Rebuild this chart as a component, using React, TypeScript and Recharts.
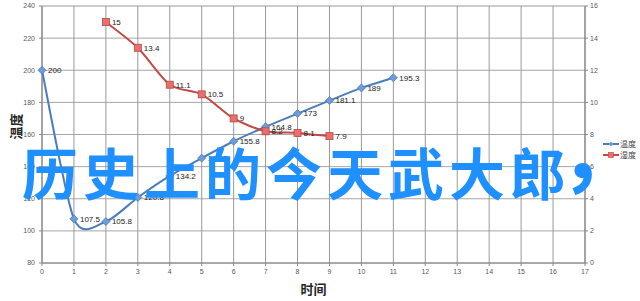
import React from 'react';
import { LineChart, Line, XAxis, YAxis, CartesianGrid, LabelList, Legend } from 'recharts';

const xTicks = [0, 1, 2, 3, 4, 5, 6, 7, 8, 9, 10, 11, 12, 13, 14, 15, 16, 17];
const leftTicks = [80, 100, 120, 140, 160, 180, 200, 220, 240];
const rightTicks = [0, 2, 4, 6, 8, 10, 12, 14, 16];

const tempX = [0, 1, 2, 3, 4, 5, 6, 7, 8, 9, 10, 11];
const tempValues = [200, 107.5, 105.8, 120.8, 134.2, 145.3, 155.8, 164.8, 173, 181.1, 189, 195.3];

const humidX = [2, 3, 4, 5, 6, 7, 8, 9];
const humidValues = [15, 13.4, 11.1, 10.5, 9, 8.2, 8.1, 7.9];

const seriesNames = ['温度', '湿度'];
const xLabel = '时间';
const yLabel = '温度';
const overlayMain = '历史上的今天武大郎';
const overlayComma = '，';

const minorX: number[] = [];
for (let i = 0; i <= 85; i++) minorX.push(+(i * 0.2).toFixed(1));
const minorY: number[] = [];
for (let v = 80; v <= 240; v += 10) minorY.push(v);

const tempData = tempX.map((x, i) => ({ x, temp: tempValues[i] }));
const humidData = humidX.map((x, i) => ({ x, humid: humidValues[i] }));

const BLUE = '#4A7EBB';
const RED = '#BE4B48';

function excelCurve(context: any) {
  let pts: number[][] = [];
  const k = 0.8 / 6;
  return {
    areaStart() {},
    areaEnd() {},
    lineStart() {
      pts = [];
    },
    point(x: number, y: number) {
      pts.push([+x, +y]);
    },
    lineEnd() {
      if (!pts.length) return;
      context.moveTo(pts[0][0], pts[0][1]);
      for (let i = 0; i < pts.length - 1; i++) {
        const p0 = pts[i - 1] || pts[i];
        const p1 = pts[i];
        const p2 = pts[i + 1];
        const p3 = pts[i + 2] || pts[i + 1];
        const c1x = p1[0] + (p2[0] - p0[0]) * k;
        const c1y = p1[1] + (p2[1] - p0[1]) * k;
        const c2x = p2[0] - (p3[0] - p1[0]) * k;
        const c2y = p2[1] - (p3[1] - p1[1]) * k;
        context.bezierCurveTo(c1x, c1y, c2x, c2y, p2[0], p2[1]);
      }
    },
  };
}

const Diamond = (props: any) => {
  const { cx, cy } = props;
  if (cx == null || cy == null) return null;
  const r = 4;
  return (
    <path
      d={`M${cx},${cy - r}L${cx + r},${cy}L${cx},${cy + r}L${cx - r},${cy}Z`}
      fill="#6F9BD6"
      stroke="#4A7EBB"
      strokeWidth={0.8}
    />
  );
};

const Square = (props: any) => {
  const { cx, cy } = props;
  if (cx == null || cy == null) return null;
  const r = 3.5;
  return <rect x={cx - r} y={cy - r} width={2 * r} height={2 * r} fill="#E8706D" stroke="#B84542" strokeWidth={0.8} />;
};

const LegendContent = () => (
  <div style={{ fontFamily: '"Noto Sans CJK SC", sans-serif', fontSize: 8, lineHeight: '11px', color: '#444' }}>
    {[BLUE, RED].map((c, i) => (
      <div key={i} style={{ display: 'flex', alignItems: 'center', height: 11 }}>
        <svg width={16} height={8}>
          <line x1={0} y1={4} x2={16} y2={4} stroke={c} strokeWidth={2} />
          {i === 0 ? (
            <path d="M8,1.5L10.5,4L8,6.5L5.5,4Z" fill="#6F9BD6" />
          ) : (
            <rect x={5.5} y={1.5} width={5} height={5} fill="#E8706D" stroke="#B84542" strokeWidth={0.6} />
          )}
        </svg>
        <span style={{ marginLeft: 1 }}>{seriesNames[i]}</span>
      </div>
    ))}
  </div>
);

const tickStyle = { fontSize: 7, fill: '#595959', fontFamily: 'Arial, "Liberation Sans", sans-serif' };

export default function App() {
  return (
    <div style={{ position: 'absolute', left: 0, top: 0, width: 640, height: 301, background: '#fff' }}>
      <LineChart width={640} height={301} margin={{ top: 6, right: 25, bottom: 0, left: 0 }}>
        <XAxis xAxisId="minor" type="number" dataKey="x" domain={[0, 17]} ticks={minorX} hide />
        <YAxis yAxisId="minor" type="number" domain={[80, 240]} ticks={minorY} hide />
        <CartesianGrid xAxisId="minor" yAxisId="minor" stroke="#cfcfcf" strokeWidth={1} horizontal={false} />
        <CartesianGrid xAxisId="main" yAxisId="left" stroke="#a6a6a6" strokeWidth={1} vertical={false} />
        <CartesianGrid xAxisId="main" yAxisId="minor" stroke="#c4c4c4" strokeWidth={1} vertical={false} />
        <CartesianGrid xAxisId="main" yAxisId="left" stroke="#9a9a9a" strokeWidth={1} horizontal={false} />
        <XAxis
          xAxisId="main"
          type="number"
          dataKey="x"
          domain={[0, 17]}
          ticks={xTicks}
          interval={0}
          height={38}
          tick={tickStyle}
          tickSize={3}
          tickMargin={3}
          stroke="#868686"
          label={{
            value: xLabel,
            position: 'insideBottom',
            offset: 7,
            style: { fontSize: 13, fontWeight: 700, fill: '#262626', fontFamily: '"Noto Sans CJK SC", sans-serif' },
          }}
        />
        <YAxis
          yAxisId="left"
          type="number"
          domain={[80, 240]}
          ticks={leftTicks}
          interval={0}
          width={42}
          tick={tickStyle}
          tickSize={3}
          tickMargin={4}
          stroke="#868686"
          label={(p: any) => {
            const vb = p.viewBox || {};
            const cx = 15;
            const cy = (vb.y ?? 6) + (vb.height ?? 257) / 2 - 8;
            return (
              <text
                x={cx}
                y={cy}
                transform={`rotate(-90 ${cx} ${cy})`}
                textAnchor="middle"
                dominantBaseline="central"
                style={{ fontSize: 13, fontWeight: 700, fill: '#262626', fontFamily: '"Noto Sans CJK SC", serif' }}
              >
                {yLabel}
              </text>
            );
          }}
        />
        <YAxis
          yAxisId="right"
          orientation="right"
          type="number"
          domain={[0, 16]}
          ticks={rightTicks}
          interval={0}
          width={30}
          tick={tickStyle}
          tickSize={3}
          tickMargin={2}
          stroke="#868686"
        />
        <Line
          data={tempData}
          xAxisId="main"
          yAxisId="left"
          dataKey="temp"
          name={seriesNames[0]}
          type={excelCurve as any}
          stroke={BLUE}
          strokeWidth={2}
          dot={<Diamond />}
          activeDot={false}
          isAnimationActive={false}
        >
          <LabelList dataKey="temp" position="right" offset={6} style={{ fontSize: 8, fill: '#1a1a1a', fontFamily: 'Arial, "Liberation Sans", sans-serif' }} />
        </Line>
        <Line
          data={humidData}
          xAxisId="main"
          yAxisId="right"
          dataKey="humid"
          name={seriesNames[1]}
          type={excelCurve as any}
          stroke={RED}
          strokeWidth={2}
          dot={<Square />}
          activeDot={false}
          isAnimationActive={false}
        >
          <LabelList dataKey="humid" position="right" offset={6} style={{ fontSize: 8, fill: '#1a1a1a', fontFamily: 'Arial, "Liberation Sans", sans-serif' }} />
        </Line>
        <Legend
          layout="vertical"
          align="center"
          verticalAlign="middle"
          content={<LegendContent />}
          wrapperStyle={{ left: 603, top: 138, width: 37, height: 24 }}
        />
      </LineChart>
      <div
        style={{
          position: 'absolute',
          left: 22,
          top: 131,
          fontFamily: '"Noto Sans CJK SC", sans-serif',
          fontWeight: 700,
          fontSize: 56,
          letterSpacing: 5,
          lineHeight: '56px',
          color: '#1E90FF',
          whiteSpace: 'nowrap',
          pointerEvents: 'none',
        }}
      >
        {overlayMain}
        <span style={{ position: 'relative', top: -12, fontSize: 84, letterSpacing: 0, marginLeft: -12 }}>{overlayComma}</span>
      </div>
    </div>
  );
}
